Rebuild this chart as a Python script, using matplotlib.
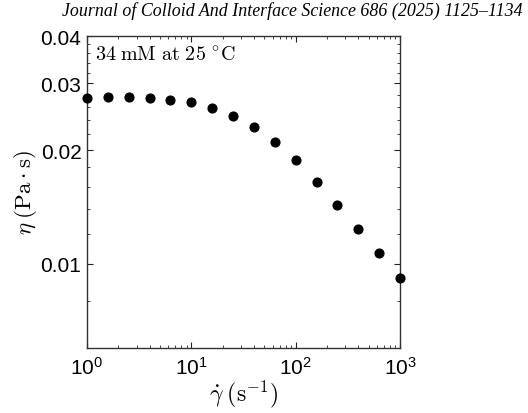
import matplotlib
matplotlib.use("Agg")
import matplotlib.pyplot as plt
from matplotlib.ticker import FixedLocator, FixedFormatter, NullFormatter

shear_rate = [1.0, 1.585, 2.512, 3.981, 6.310, 10.0, 15.85, 25.12, 39.81,
              63.10, 100.0, 158.5, 251.2, 398.1, 631.0, 1000.0]
viscosity = [0.02740, 0.02768, 0.02756, 0.02746, 0.02718, 0.02674, 0.02589,
             0.02466, 0.02303, 0.02102, 0.01882, 0.01651, 0.01433, 0.01238,
             0.01069, 0.00920]

x_ticks = [1, 10, 100, 1000]
x_tick_labels = [r'$\mathdefault{10^{0}}$', r'$\mathdefault{10^{1}}$',
                 r'$\mathdefault{10^{2}}$', r'$\mathdefault{10^{3}}$']
y_ticks = [0.01, 0.02, 0.03, 0.04]
y_tick_labels = ['0.01', '0.02', '0.03', '0.04']
y_minor = [0.006, 0.008, 0.012, 0.014, 0.016, 0.018, 0.022, 0.024, 0.026,
           0.028, 0.032, 0.034, 0.036, 0.038]

plt.rcParams['font.family'] = ['Liberation Sans', 'DejaVu Sans']
plt.rcParams['mathtext.fontset'] = 'cm'

fig = plt.figure(figsize=(5.28, 4.14), dpi=100)
ax = fig.add_axes([0.1648, 0.157, 0.5928, 0.7536])

ax.plot(shear_rate, viscosity, 'o', color='black', markersize=6.3, clip_on=False, zorder=3)

ax.set_xscale('log')
ax.set_yscale('log')
ax.set_xlim(1, 1000)
ax.set_ylim(0.006, 0.04)

ax.xaxis.set_major_locator(FixedLocator(x_ticks))
ax.xaxis.set_major_formatter(FixedFormatter(x_tick_labels))
ax.xaxis.set_minor_formatter(NullFormatter())
ax.yaxis.set_major_locator(FixedLocator(y_ticks))
ax.yaxis.set_major_formatter(FixedFormatter(y_tick_labels))
ax.yaxis.set_minor_locator(FixedLocator(y_minor))
ax.yaxis.set_minor_formatter(NullFormatter())

ax.tick_params(which='both', direction='in', top=True, right=True, color='#222222')
ax.tick_params(which='major', length=4, width=0.8, labelsize=15, pad=4)
ax.tick_params(which='minor', length=2.2, width=0.6)
ax.tick_params(axis='x', which='major', pad=6)

for s in ax.spines.values():
    s.set_color('#333333')
    s.set_linewidth(1.0)

ax.set_xlabel(r'$\dot{\gamma}\;(\mathrm{s}^{-1})$', fontsize=17, labelpad=0)
ax.set_ylabel(r'$\eta\;(\mathrm{Pa\cdot s})$', fontsize=16.5, labelpad=1)

ax.text(0.025, 0.97, r'$34\;\mathrm{mM\ at\ 25\ ^{\circ}C}$', transform=ax.transAxes,
        fontsize=14.5, ha='left', va='top')

fig.text(0.99, 0.952, 'Journal of Colloid And Interface Science 686 (2025) 1125\u20131134',
         ha='right', va='bottom', fontsize=12.9, style='italic',
         family=['Liberation Serif', 'DejaVu Serif'])

fig.savefig('out.png', dpi=100)
